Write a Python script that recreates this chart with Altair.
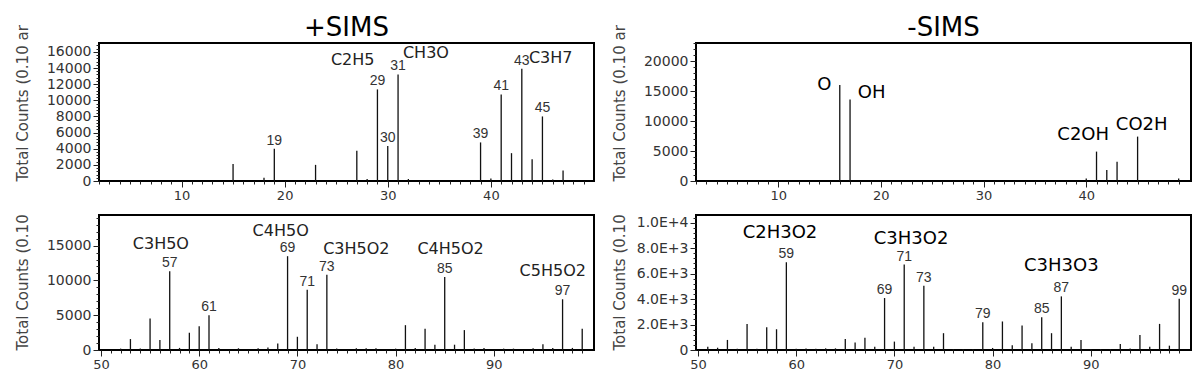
import math
import altair as alt
import pandas as pd

FONT = "DejaVu Sans"
NUMFONT = "Liberation Sans"

# ---------------- +SIMS, m/z 2-50 ----------------
pos_lo_mz = [15, 18, 19, 23, 27, 28, 29, 30, 31, 32, 39, 40, 41, 42, 43, 44, 45, 46, 47]
pos_lo_cnt = [2100, 400, 4000, 2000, 3750, 250, 11350, 4350, 13200, 250, 4780, 300,
              10720, 3450, 13900, 2700, 8000, 200, 1300]
pos_lo_num = [19, 29, 30, 31, 39, 41, 43, 45]
pos_lo_frm = ["C2H5", "CH3O", "C3H7"]
pos_lo_frm_mz = [26.6, 33.7, 45.8]
pos_lo_frm_cnt = [15000, 15800, 15300]

# ---------------- +SIMS, m/z 50-100 ----------------
pos_hi_mz = [52, 53, 54, 55, 56, 57, 58, 59, 60, 61, 62, 64, 66, 67, 68, 69, 70, 71, 72, 73,
             74, 76, 77, 78, 80, 81, 82, 83, 84, 85, 86, 87, 88, 89, 91, 92, 94, 95, 96, 97, 98, 99]
pos_hi_cnt = [200, 1570, 200, 4520, 1430, 11330, 300, 2480, 3430, 5000, 300, 250, 250, 350, 950,
              13480, 1900, 8670, 810, 10810, 200, 250, 250, 250, 200, 3570, 300, 3050, 760,
              10480, 760, 2860, 200, 300, 200, 200, 250, 810, 300, 7290, 300, 3050]
pos_hi_num = [57, 61, 69, 71, 73, 85, 97]
pos_hi_frm = ["C3H5O", "C4H5O", "C3H5O2", "C4H5O2", "C5H5O2"]
pos_hi_frm_mz = [56.1, 68.3, 76.0, 85.6, 96.0]
pos_hi_frm_cnt = [15230, 17150, 14510, 14510, 11400]

# ---------------- -SIMS, m/z 2-50 ----------------
neg_lo_mz = [16, 17, 40, 41, 42, 43, 45, 49]
neg_lo_cnt = [16000, 13600, 400, 4900, 1850, 3200, 7400, 400]
neg_lo_num = []
neg_lo_frm = ["O", "OH", "C2OH", "CO2H"]
neg_lo_frm_mz = [14.5, 19.1, 39.7, 45.4]
neg_lo_frm_cnt = [15950, 14670, 7620, 9280]

# ---------------- -SIMS, m/z 50-100 ----------------
neg_hi_mz = [51, 52, 53, 54, 55, 56, 57, 58, 59, 60, 61, 62, 63, 64, 65, 66, 67, 68, 69, 70,
             71, 72, 73, 74, 75, 76, 77, 78, 79, 80, 81, 82, 83, 84, 85, 86, 87, 88, 89, 90,
             91, 92, 93, 94, 95, 96, 97, 98, 99]
neg_hi_cnt = [260, 180, 790, 100, 2050, 100, 1790, 1630, 6890, 100, 120, 100, 130, 130, 870,
              580, 970, 260, 4080, 660, 6710, 260, 5050, 260, 1320, 80, 80, 80, 2180, 160,
              2240, 370, 1920, 530, 2580, 1320, 4210, 260, 790, 60, 80, 80, 470, 120, 1180,
              260, 2050, 340, 4030]
neg_hi_num = [59, 69, 71, 73, 79, 85, 87, 99]
neg_hi_frm = ["C2H3O2", "C3H3O2", "C3H3O3"]
neg_hi_frm_mz = [58.35, 71.7, 87.0]
neg_hi_frm_cnt = [9220, 8750, 6620]

TITLE_LO = "Total Counts (0.10 ar"
TITLE_HI = "Total Counts (0.10"

W = 495


def panel(mz, cnt, nums, ftxt, fmz, fcnt, xdom, ydom, major, minor, ytitle, height,
          fsize, fcolor, sci=False, title=None):
    df = pd.DataFrame({"mz": mz, "cnt": cnt})
    look = dict(zip(mz, cnt))
    dnum = pd.DataFrame({"mz": nums, "cnt": [look[m] for m in nums],
                         "lbl": [str(m) for m in nums]})
    dfrm = pd.DataFrame({"mz": fmz, "cnt": fcnt, "lbl": ftxt})

    xvals = list(range(int(math.ceil(xdom[0])), int(math.floor(xdom[1]))))
    xaxis = alt.Axis(
        values=xvals, title=None, grid=False, domain=False,
        labelExpr="datum.value % 10 === 0 ? datum.label : ''",
        tickSize={"condition": {"test": "datum.value % 10 === 0", "value": 6}, "value": 3},
        labelFont=FONT, labelFontSize=13, labelColor="#333", labelPadding=2,
        tickColor="#222", labelOverlap=False, labelFlush=False, labelBound=False,
    )
    yvals = list(range(0, int(ydom[1]) + 1, minor))
    if sci:
        lab = (f"datum.value % {major} === 0 ? (datum.value === 0 ? '0' : "
               "replace(format(datum.value, '.1e'), 'e', 'E')) : ''")
    else:
        lab = f"datum.value % {major} === 0 ? format(datum.value, 'd') : ''"
    yaxis = alt.Axis(
        values=yvals, title=ytitle, grid=False, domain=False, labelExpr=lab,
        tickSize={"condition": {"test": f"datum.value % {major} === 0", "value": 6}, "value": 3},
        labelFont=FONT, labelFontSize=14, labelColor="#333", labelPadding=2,
        tickColor="#222", labelOverlap=False, labelFlush=False, labelBound=False,
        titleFont=FONT, titleFontSize=15, titleFontWeight="normal", titleColor="#444",
        titleAngle=270, titleAlign="left", titleBaseline="middle",
        titleX=-77, titleY=height,
    )
    xs = alt.Scale(domain=list(xdom), nice=False, zero=False)
    ys = alt.Scale(domain=list(ydom), nice=False)
    X = alt.X("mz:Q", scale=xs, axis=xaxis)
    Y = alt.Y("cnt:Q", scale=ys, axis=yaxis)

    rules = alt.Chart(df).mark_rule(color="#111", strokeWidth=1.3).encode(
        x=X, y=Y, y2=alt.datum(0))
    layers = [rules]
    if len(dnum):
        layers.append(alt.Chart(dnum).mark_text(
            dy=-4, baseline="alphabetic", align="center", font=NUMFONT, fontSize=14,
            color="#333").encode(x=X, y=Y, text="lbl:N"))
    layers.append(alt.Chart(dfrm).mark_text(
        baseline="middle", align="center", font=FONT, fontSize=fsize,
        color=fcolor).encode(x=X, y=Y, text="lbl:N"))
    ch = alt.layer(*layers).properties(width=W, height=height)
    if title:
        ch = ch.properties(title=alt.TitleParams(
            title, fontSize=26, font=FONT, fontWeight="normal", color="black",
            offset=6, dy=22, anchor="middle", frame="group"))
    return ch


tl = panel(pos_lo_mz, pos_lo_cnt, pos_lo_num, pos_lo_frm, pos_lo_frm_mz, pos_lo_frm_cnt,
           (2, 50), (0, 17100), 2000, 400, TITLE_LO, 138, 16, "#222", title="+SIMS")
bl = panel(pos_hi_mz, pos_hi_cnt, pos_hi_num, pos_hi_frm, pos_hi_frm_mz, pos_hi_frm_cnt,
           (49.8, 100.2), (0, 19400), 5000, 1000, TITLE_HI, 135, 16, "#222")
tr = panel(neg_lo_mz, neg_lo_cnt, neg_lo_num, neg_lo_frm, neg_lo_frm_mz, neg_lo_frm_cnt,
           (2, 50.2), (0, 23000), 5000, 1000, TITLE_LO, 138, 18, "black", title="-SIMS")
br = panel(neg_hi_mz, neg_hi_cnt, neg_hi_num, neg_hi_frm, neg_hi_frm_mz, neg_hi_frm_cnt,
           (49.8, 100.2), (0, 10600), 2000, 400, TITLE_HI, 135, 18, "black", sci=True)

chart = alt.hconcat(
    alt.vconcat(tl, bl, spacing=6),
    alt.vconcat(tr, br, spacing=6),
    spacing=15,
).properties(
    padding={"left": 5, "top": 5, "right": 0, "bottom": 5}
).configure(font=FONT).configure_view(stroke="black", strokeWidth=2)

chart.save("out.html", embed_options={"renderer": "svg", "actions": False})
